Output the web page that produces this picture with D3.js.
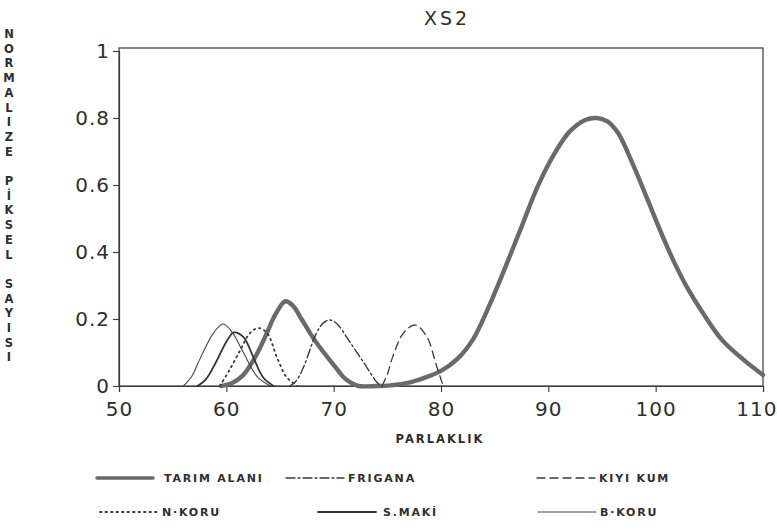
<!DOCTYPE html>
<html>
<head>
<meta charset="utf-8">
<script src="https://cdn.jsdelivr.net/npm/d3@7"></script>
<style>
  body { margin: 0; background: #fff; }
  svg { display: block; }
  text { font-family: "DejaVu Sans", sans-serif; fill: #2e2e2e; }
</style>
</head>
<body>
<div id="chart"></div>
<script>
// Data (brightness vs normalised pixel count)
var xTicks = [50, 60, 70, 80, 90, 100, 110];
var yTicks = [0, 0.2, 0.4, 0.6, 0.8, 1];
var yTickLabels = ["0", "0.2", "0.4", "0.6", "0.8", "1"];

var tarimAlani = [[59.5, 0], [60.5, 0.008], [61.5, 0.03], [62.2, 0.06], [63, 0.105], [63.8, 0.16], [64.6, 0.215],
    [65.5, 0.253], [66.2, 0.24], [67, 0.2], [67.8, 0.158], [68.6, 0.12], [69.4, 0.087], [70.2, 0.055],
    [70.9, 0.027], [71.6, 0.01], [72.3, 0], [74, 0], [75.3, 0.002], [77, 0.01], [78.5, 0.025], [80, 0.045],
    [81.5, 0.08], [83, 0.14], [84.5, 0.24], [86, 0.355], [87.5, 0.475], [89, 0.595], [90.5, 0.69],
    [92, 0.76], [93.5, 0.795], [94.5, 0.8], [95.5, 0.79], [96.5, 0.755], [97.9, 0.66], [99.2, 0.56],
    [100.4, 0.466], [101.6, 0.378], [102.9, 0.296], [104.4, 0.218], [106.2, 0.137], [108.2, 0.078], [110, 0.033]];
var frigana = [[65.9, 0], [66.5, 0.015], [67.2, 0.057], [68.4, 0.158], [69.1, 0.19], [69.7, 0.197], [70.4, 0.183],
    [71.2, 0.146], [72, 0.108], [72.8, 0.07], [73.5, 0.035], [74, 0.012], [74.4, 0]];
var kiyiKum = [[74.5, 0], [75, 0.035], [75.5, 0.087], [76.5, 0.158], [77.6, 0.182], [78.7, 0.146], [79.5, 0.069], [80.2, 0]];
var nKoru = [[59.4, 0], [60.3, 0.048], [61.3, 0.107], [62.2, 0.158], [63, 0.173], [63.8, 0.158], [64.7, 0.087],
    [65.6, 0.027], [66.6, 0]];
var sMaki = [[57.3, 0], [58.1, 0.02], [58.8, 0.057], [60.1, 0.137], [60.7, 0.16], [61.6, 0.146], [62.5, 0.087],
    [63.4, 0.027], [64.4, 0]];
var bKoru = [[56, 0], [56.8, 0.03], [57.5, 0.078], [58.8, 0.158], [59.7, 0.185], [60.6, 0.158], [61.6, 0.099],
    [62.9, 0.027], [64.1, 0]];

var svgWidth = 777;
var svgHeight = 528;

var svg = d3.select("#chart")
    .append("svg")
    .attr("width", svgWidth)
    .attr("height", svgHeight);

var x = d3.scaleLinear().domain([50, 110]).range([119, 763]);
var y = d3.scaleLinear().domain([0, 1]).range([386, 51]);

// series styles (stroke, width, dash)
var series = [
    { name: "TARIM ALANI", data: tarimAlani, color: "#6a6a6a", width: 4.4, dash: null },
    { name: "FRIGANA", data: frigana, color: "#3a3a3a", width: 1.4, dash: "9,3,2,3" },
    { name: "KIYI KUM", data: kiyiKum, color: "#3a3a3a", width: 1.3, dash: "8,5" },
    { name: "N·KORU", data: nKoru, color: "#3a3a3a", width: 1.8, dash: "1.5,4" },
    { name: "S.MAKİ", data: sMaki, color: "#333", width: 1.8, dash: null },
    { name: "B·KORU", data: bKoru, color: "#444", width: 1.1, dash: null }
];

// title
svg.append("text")
    .attr("x", 447)
    .attr("y", 25)
    .attr("text-anchor", "middle")
    .style("font-size", "19px")
    .style("letter-spacing", "3px")
    .text("XS2");

// frame
svg.append("rect")
    .attr("x", x(50))
    .attr("y", 48)
    .attr("width", x(110) - x(50))
    .attr("height", y(0) - 48)
    .attr("fill", "none")
    .attr("stroke", "#3a3a3a")
    .attr("stroke-width", 1.2);

// axes
var bottomAxis = d3.axisBottom(x).tickValues(xTicks).tickSize(6).tickFormat(d3.format("d"));
var leftAxis = d3.axisLeft(y).tickValues(yTicks).tickSize(6).tickFormat((d, i) => yTickLabels[i]);

var xAxis = svg.append("g")
    .attr("transform", `translate(0, ${y(0)})`)
    .call(bottomAxis);
var yAxis = svg.append("g")
    .attr("transform", `translate(${x(50)}, 0)`)
    .call(leftAxis);

[xAxis, yAxis].forEach(function (g) {
    g.select(".domain").attr("stroke", "#3a3a3a").attr("stroke-width", 1.2);
    g.selectAll(".tick line").attr("stroke", "#3a3a3a").attr("stroke-width", 1.1);
    g.selectAll(".tick text")
        .style("font-size", "20px")
        .style("font-family", "'DejaVu Sans', sans-serif")
        .style("letter-spacing", "1px")
        .attr("fill", "#3a3a3a");
});
xAxis.selectAll(".tick text").attr("dy", "1.05em");
// keep the last label inside the page
xAxis.selectAll(".tick text").filter(d => d == 110).attr("text-anchor", "end").attr("x", 14);
yAxis.selectAll(".tick text").attr("x", -9);

// x label
svg.append("text")
    .attr("x", 440)
    .attr("y", 443)
    .attr("text-anchor", "middle")
    .style("font-size", "11.5px")
    .style("font-weight", "bold")
    .style("letter-spacing", "2px")
    .text("PARLAKLIK");

// y label, letters stacked vertically
var yLabel = "NORMALIZE PİKSEL SAYISI".split("");
svg.selectAll(".ylab")
    .data(yLabel)
    .enter()
    .append("text")
    .attr("class", "ylab")
    .attr("x", 9)
    .attr("y", (d, i) => 38 + i * 14.7)
    .attr("text-anchor", "middle")
    .style("font-size", "11.5px")
    .style("font-weight", "bold")
    .text(d => d);

// curves
var line = d3.line()
    .x(d => x(d[0]))
    .y(d => Math.min(y(d[1]), y(0)))
    .curve(d3.curveCatmullRom.alpha(0.5));

svg.selectAll(".curve")
    .data(series)
    .enter()
    .append("path")
    .attr("class", "curve")
    .attr("d", d => line(d.data))
    .attr("fill", "none")
    .attr("stroke", d => d.color)
    .attr("stroke-width", d => d.width)
    .attr("stroke-dasharray", d => d.dash)
    .attr("stroke-linecap", "round")
    .attr("stroke-linejoin", "round");

// legend, two rows of three
var legendPos = [
    { lx: 97, tx: 164, ly: 478 },
    { lx: 286, tx: 348, ly: 478 },
    { lx: 537, tx: 599, ly: 478 },
    { lx: 100, tx: 162, ly: 512 },
    { lx: 318, tx: 383, ly: 512 },
    { lx: 538, tx: 600, ly: 512 }
];
var legend = svg.selectAll(".legend")
    .data(series)
    .enter()
    .append("g")
    .attr("class", "legend");

legend.append("line")
    .attr("x1", (d, i) => legendPos[i].lx)
    .attr("x2", (d, i) => legendPos[i].lx + (i == 0 ? 56 : 58))
    .attr("y1", (d, i) => legendPos[i].ly)
    .attr("y2", (d, i) => legendPos[i].ly)
    .attr("stroke", d => d.color)
    .attr("stroke-width", d => Math.min(d.width, 3.5))
    .attr("stroke-dasharray", d => d.dash)
    .attr("stroke-linecap", "round");

legend.append("text")
    .attr("x", (d, i) => legendPos[i].tx)
    .attr("y", (d, i) => legendPos[i].ly + 4)
    .style("font-size", "11px")
    .style("font-weight", "bold")
    .style("letter-spacing", "1.8px")
    .text(d => d.name);
</script>
</body>
</html>
